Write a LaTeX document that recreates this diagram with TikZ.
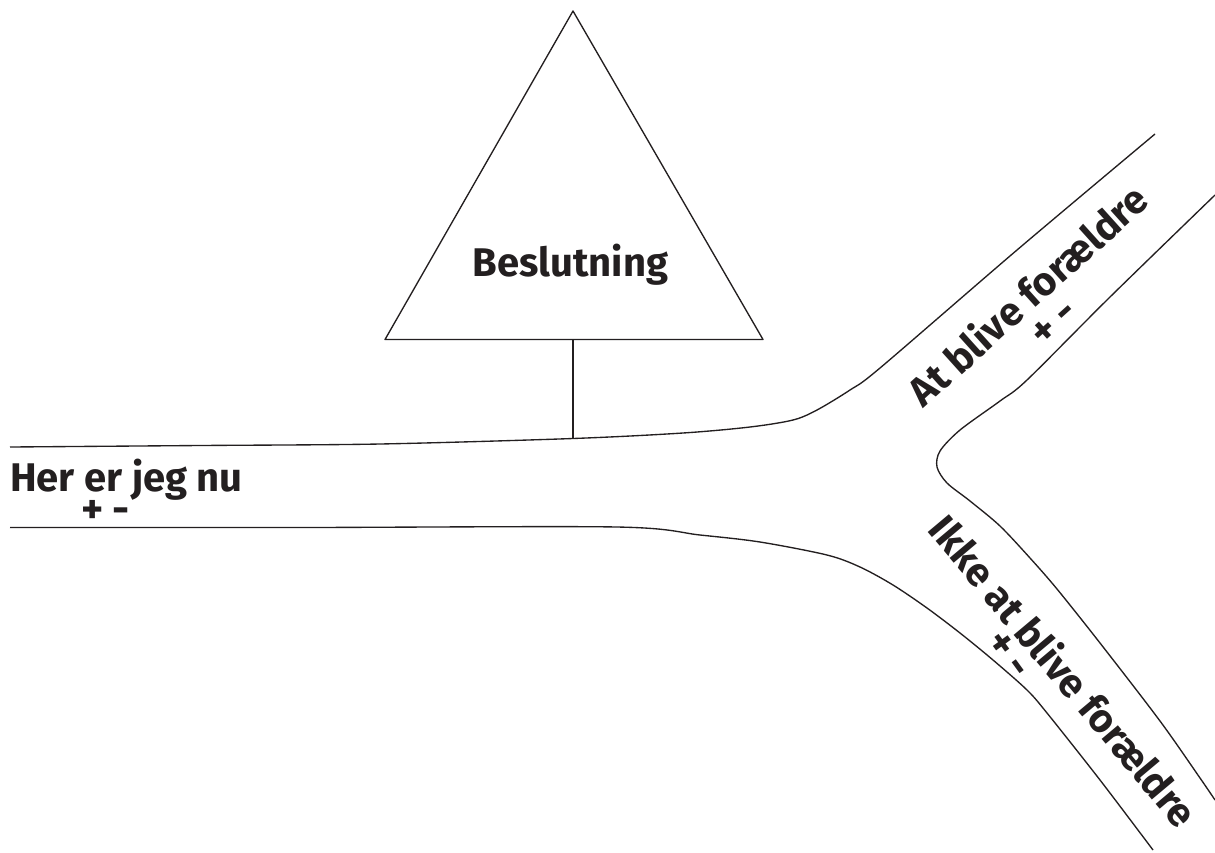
\documentclass[tikz,border=0pt]{standalone}
\usepackage{fontspec}
\setmainfont{Fira Sans}
\definecolor{ink}{HTML}{231F20}
\newcommand{\plusminus}{+\hspace{9pt}-}
\begin{document}
\begin{tikzpicture}[x=1pt,y=-1pt,
  road/.style={draw=ink,line width=1.35pt,line join=round},
  lbl/.style={text=ink,inner sep=0pt,font=\fontsize{40}{48}\selectfont\bfseries},
  pm/.style={text=ink,inner sep=0pt,font=\fontsize{42}{48}\selectfont\bfseries}]
\useasboundingbox (0,0) rectangle (1215,852);
% triangle
\coordinate (apex) at (573,11);
\coordinate (bl) at (385,339.5);
\coordinate (br) at (763,339.5);
\coordinate (stemtop) at (573,339.5);
\coordinate (stembot) at (573,438.5);
\draw[road] (apex) -- (br) -- (bl) -- cycle;
\draw[road] (stemtop) -- (stembot);
\node[lbl,anchor=base] (beslut) at (570.5,276.7) {Beslutning};
% roads
\draw[road] plot[smooth,tension=0.5] coordinates {(10,447) (200,445.5) (380,444) (573,438.5) (683,433) (750,427) (793,420) (817,410) (850,390) (880,368) (1017,250) (1155,134)};
\draw[road] plot[smooth,tension=0.5] coordinates {(1215,195) (1110,297) (1027,380) (1000,401) (960,430) (940,451) (937,467) (947,483) (970,501) (1000,526) (1030,558) (1057,589) (1100,643) (1160,721) (1200,778) (1215,800)};
\draw[road] plot[smooth,tension=0.5] coordinates {(10,527.5) (300,527.5) (617,527) (700,535) (760,542) (827,555) (860,567) (893,585) (927,608) (960,633) (993,660) (1027,690) (1047,713) (1100,780) (1153,850)};
% labels
\node[lbl,anchor=base west] (her) at (10,491.7) {Her er jeg nu};
\node[pm] (herpm) at (105.5,512) {\plusminus};
\node[lbl,rotate=42] (at) at (1027,294.3) {At blive forældre};
\node[pm,rotate=42] (atpm) at (1054.5,323.5) {\plusminus};
\node[lbl,rotate=-50] (ikke) at (1064.5,670.5) {Ikke at blive forældre};
\node[pm,rotate=-54] (ikkepm) at (1008,655) {\plusminus};
\end{tikzpicture}
\end{document}
